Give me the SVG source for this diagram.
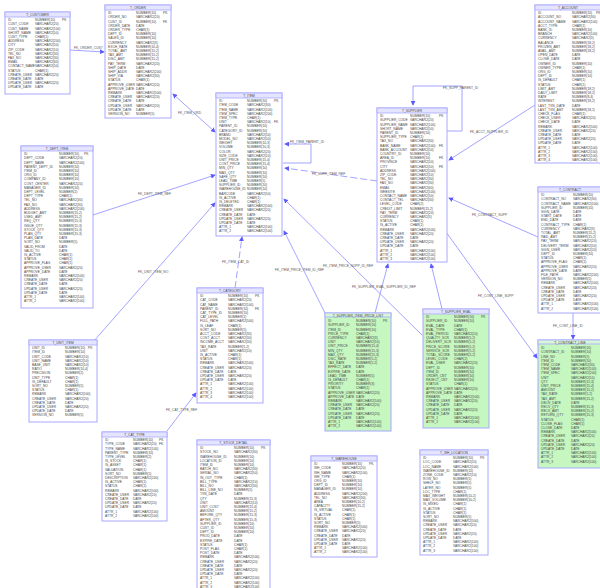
<svg xmlns="http://www.w3.org/2000/svg" width="600" height="588" viewBox="0 0 600 588">
<defs>
<style>
.b{fill:#fff;stroke:#a8a8ff;stroke-width:1}
.gr{fill:#c6f7c0;stroke:#a8a8ff;stroke-width:1}
.h{fill:#e4e4ff;stroke:#a8a8ff;stroke-width:.8}
text{font-family:"Liberation Sans",Arial,sans-serif;font-size:3.3px;fill:#484848}
.t{text-anchor:middle}
.k{fill:none;stroke:#a4a4ff;stroke-width:1}
.d{stroke-dasharray:7 3}
.l{font-size:3.3px;fill:#555}
</style>
<marker id="a" viewBox="0 0 6 6" refX="5" refY="3" markerWidth="5" markerHeight="5" orient="auto-start-reverse" markerUnits="userSpaceOnUse"><path d="M0,0L6,3L0,6z" fill="#5a5aff"/></marker>
</defs>
<rect width="600" height="588" fill="#fff"/>

<g id="connectors">
<path class="k" d="M70,50L104,52" marker-end="url(#a)"/>
<text class="l" x="74" y="49">FK_ORDER_CUST</text>
<path class="k" d="M215,132L173,94" marker-start="url(#a)" marker-end="url(#a)"/>
<text class="l" x="178" y="114">FK_ITEM_ORD</text>
<path class="k" d="M93,215L215,175" marker-end="url(#a)"/>
<text class="l" x="138" y="195">FK_DEPT_ITEM_REF</text>
<path class="k" d="M93,342L215,203" marker-end="url(#a)"/>
<text class="l" x="138" y="273">FK_UNIT_ITEM_NO</text>
<path class="k d" d="M235,288L242,237" marker-end="url(#a)"/>
<text class="l" x="222" y="263">FK_ITEM_CAT_ID</text>
<path class="k" d="M167,431L196,393" marker-end="url(#a)"/>
<text class="l" x="166" y="411">FK_CAT_TYPE_REF</text>
<path class="k" d="M283,163H311V144H285" marker-end="url(#a)"/>
<text class="l" x="290" y="143">FK_ITEM_PARENT_ID</text>
<path class="k d" d="M377,181L285,168" marker-end="url(#a)"/>
<text class="l" x="312" y="175">FK_SUPP_ITEM_REF</text>
<path class="k" d="M422,335L284,199" marker-end="url(#a)"/>
<path class="k" d="M325,313L284,231" marker-end="url(#a)"/>
<text class="l" x="275" y="271">FK_ITEM_PRICE_ITEM_ID_REF</text>
<path class="k" d="M375,313L388,264" marker-end="url(#a)"/>
<text class="l" x="323" y="267">FK_ITEM_PRICE_SUPP_ID_REF</text>
<path class="k" d="M442,309L431,264" marker-end="url(#a)"/>
<text class="l" x="352" y="288">FK_SUPPLIER_EVAL_SUPPLIER_ID_REF</text>
<path class="k" d="M535,105L449,160" marker-end="url(#a)"/>
<text class="l" x="470" y="133">FK_ACCT_SUPPLIER_ID</text>
<path class="k" d="M538,237L449,198" marker-end="url(#a)"/>
<text class="l" x="472" y="216">FK_CONTRACT_SUPP</text>
<path class="k" d="M446,232L537,358" marker-end="url(#a)"/>
<text class="l" x="478" y="297">FK_CONT_LINE_SUPP</text>
<path class="k" d="M573,313V339" marker-end="url(#a)"/>
<text class="l" x="553" y="327">FK_CONT_LINE_ID</text>
<path class="k" d="M447,131H462V86H413V105" marker-end="url(#a)"/>
<text class="l" x="443" y="89">FK_SUPP_PARENT_ID</text>
</g>

<g id="t_customer" transform="translate(5,12)">
<rect class="b" width="65" height="82"/><rect class="h" width="65" height="5"/>
<text class="t" x="32.5" y="3.9">T_CUSTOMER</text>
<text y="5"><tspan x="3" dy="4.2">ID</tspan><tspan x="3" dy="4.2">CUST_CODE</tspan><tspan x="3" dy="4.2">CUST_NAME</tspan><tspan x="3" dy="4.2">SHORT_NAME</tspan><tspan x="3" dy="4.2">CUST_TYPE</tspan><tspan x="3" dy="4.2">ADDRESS</tspan><tspan x="3" dy="4.2">CITY</tspan><tspan x="3" dy="4.2">ZIP_CODE</tspan><tspan x="3" dy="4.2">TEL_NO</tspan><tspan x="3" dy="4.2">FAX_NO</tspan><tspan x="3" dy="4.2">EMAIL</tspan><tspan x="3" dy="4.2">CONTACT_NAME</tspan><tspan x="3" dy="4.2">STATUS</tspan><tspan x="3" dy="4.2">CREATE_USER</tspan><tspan x="3" dy="4.2">CREATE_DATE</tspan><tspan x="3" dy="4.2">UPDATE_USER</tspan><tspan x="3" dy="4.2">UPDATE_DATE</tspan></text>
<text y="5"><tspan x="30" dy="4.2">NUMBER(10)</tspan><tspan x="30" dy="4.2">VARCHAR2(20)</tspan><tspan x="30" dy="4.2">VARCHAR2(100)</tspan><tspan x="30" dy="4.2">VARCHAR2(50)</tspan><tspan x="30" dy="4.2">CHAR(1)</tspan><tspan x="30" dy="4.2">VARCHAR2(200)</tspan><tspan x="30" dy="4.2">VARCHAR2(50)</tspan><tspan x="30" dy="4.2">VARCHAR2(10)</tspan><tspan x="30" dy="4.2">VARCHAR2(30)</tspan><tspan x="30" dy="4.2">VARCHAR2(30)</tspan><tspan x="30" dy="4.2">VARCHAR2(60)</tspan><tspan x="30" dy="4.2">VARCHAR2(50)</tspan><tspan x="30" dy="4.2">CHAR(1)</tspan><tspan x="30" dy="4.2">VARCHAR2(20)</tspan><tspan x="30" dy="4.2">DATE</tspan><tspan x="30" dy="4.2">VARCHAR2(20)</tspan><tspan x="30" dy="4.2">DATE</tspan></text>
<text x="57" y="9.2">PK</text>
</g>

<g id="t_order" transform="translate(105,5)">
<rect class="b" width="66" height="113"/><rect class="h" width="66" height="5"/>
<text class="t" x="33" y="3.9">T_ORDER</text>
<text y="5"><tspan x="3" dy="4.2">ID</tspan><tspan x="3" dy="4.2">ORDER_NO</tspan><tspan x="3" dy="4.2">CUST_ID</tspan><tspan x="3" dy="4.2">ORDER_DATE</tspan><tspan x="3" dy="4.2">ORDER_TYPE</tspan><tspan x="3" dy="4.2">DEPT_ID</tspan><tspan x="3" dy="4.2">SALES_ID</tspan><tspan x="3" dy="4.2">CURRENCY</tspan><tspan x="3" dy="4.2">EXCH_RATE</tspan><tspan x="3" dy="4.2">TOTAL_AMT</tspan><tspan x="3" dy="4.2">TAX_AMT</tspan><tspan x="3" dy="4.2">DISC_AMT</tspan><tspan x="3" dy="4.2">PAY_TERM</tspan><tspan x="3" dy="4.2">SHIP_DATE</tspan><tspan x="3" dy="4.2">SHIP_ADDR</tspan><tspan x="3" dy="4.2">SHIP_VIA</tspan><tspan x="3" dy="4.2">STATUS</tspan><tspan x="3" dy="4.2">APPROVE_USER</tspan><tspan x="3" dy="4.2">APPROVE_DATE</tspan><tspan x="3" dy="4.2">REMARK</tspan><tspan x="3" dy="4.2">CREATE_USER</tspan><tspan x="3" dy="4.2">CREATE_DATE</tspan><tspan x="3" dy="4.2">UPDATE_USER</tspan><tspan x="3" dy="4.2">UPDATE_DATE</tspan><tspan x="3" dy="4.2">VERSION_NO</tspan></text>
<text y="5"><tspan x="31" dy="4.2">NUMBER(10)</tspan><tspan x="31" dy="4.2">VARCHAR2(20)</tspan><tspan x="31" dy="4.2">NUMBER(10)</tspan><tspan x="31" dy="4.2">DATE</tspan><tspan x="31" dy="4.2">CHAR(1)</tspan><tspan x="31" dy="4.2">NUMBER(10)</tspan><tspan x="31" dy="4.2">NUMBER(10)</tspan><tspan x="31" dy="4.2">VARCHAR2(3)</tspan><tspan x="31" dy="4.2">NUMBER(10,4)</tspan><tspan x="31" dy="4.2">NUMBER(15,2)</tspan><tspan x="31" dy="4.2">NUMBER(15,2)</tspan><tspan x="31" dy="4.2">NUMBER(15,2)</tspan><tspan x="31" dy="4.2">VARCHAR2(20)</tspan><tspan x="31" dy="4.2">DATE</tspan><tspan x="31" dy="4.2">VARCHAR2(200)</tspan><tspan x="31" dy="4.2">VARCHAR2(30)</tspan><tspan x="31" dy="4.2">CHAR(1)</tspan><tspan x="31" dy="4.2">VARCHAR2(20)</tspan><tspan x="31" dy="4.2">DATE</tspan><tspan x="31" dy="4.2">VARCHAR2(500)</tspan><tspan x="31" dy="4.2">VARCHAR2(20)</tspan><tspan x="31" dy="4.2">DATE</tspan><tspan x="31" dy="4.2">VARCHAR2(20)</tspan><tspan x="31" dy="4.2">DATE</tspan><tspan x="31" dy="4.2">NUMBER(5)</tspan></text>
<text x="58" y="9.2">PK</text><text x="58" y="17.6">FK</text>
</g>

<g id="t_item" transform="translate(216,93)">
<rect class="b" width="66" height="143"/><rect class="h" width="66" height="5"/>
<text class="t" x="33" y="3.9">T_ITEM</text>
<text y="5"><tspan x="3" dy="4.2">ID</tspan><tspan x="3" dy="4.2">ITEM_CODE</tspan><tspan x="3" dy="4.2">ITEM_NAME</tspan><tspan x="3" dy="4.2">ITEM_SPEC</tspan><tspan x="3" dy="4.2">ITEM_TYPE</tspan><tspan x="3" dy="4.2">UNIT</tspan><tspan x="3" dy="4.2">PARENT_ID</tspan><tspan x="3" dy="4.2">CATEGORY_ID</tspan><tspan x="3" dy="4.2">BRAND</tspan><tspan x="3" dy="4.2">MODEL_NO</tspan><tspan x="3" dy="4.2">WEIGHT</tspan><tspan x="3" dy="4.2">VOLUME</tspan><tspan x="3" dy="4.2">COLOR</tspan><tspan x="3" dy="4.2">SIZE_CODE</tspan><tspan x="3" dy="4.2">UNIT_PRICE</tspan><tspan x="3" dy="4.2">COST_PRICE</tspan><tspan x="3" dy="4.2">MIN_QTY</tspan><tspan x="3" dy="4.2">MAX_QTY</tspan><tspan x="3" dy="4.2">SAFE_QTY</tspan><tspan x="3" dy="4.2">LEAD_TIME</tspan><tspan x="3" dy="4.2">SUPPLIER_ID</tspan><tspan x="3" dy="4.2">WAREHOUSE_ID</tspan><tspan x="3" dy="4.2">BARCODE</tspan><tspan x="3" dy="4.2">IS_ACTIVE</tspan><tspan x="3" dy="4.2">IS_DELETED</tspan><tspan x="3" dy="4.2">REMARK</tspan><tspan x="3" dy="4.2">CREATE_USER</tspan><tspan x="3" dy="4.2">CREATE_DATE</tspan><tspan x="3" dy="4.2">UPDATE_USER</tspan><tspan x="3" dy="4.2">UPDATE_DATE</tspan><tspan x="3" dy="4.2">ATTR_1</tspan><tspan x="3" dy="4.2">ATTR_2</tspan></text>
<text y="5"><tspan x="31" dy="4.2">NUMBER(10)</tspan><tspan x="31" dy="4.2">VARCHAR2(30)</tspan><tspan x="31" dy="4.2">VARCHAR2(100)</tspan><tspan x="31" dy="4.2">VARCHAR2(200)</tspan><tspan x="31" dy="4.2">CHAR(1)</tspan><tspan x="31" dy="4.2">VARCHAR2(10)</tspan><tspan x="31" dy="4.2">NUMBER(10)</tspan><tspan x="31" dy="4.2">NUMBER(10)</tspan><tspan x="31" dy="4.2">VARCHAR2(50)</tspan><tspan x="31" dy="4.2">VARCHAR2(50)</tspan><tspan x="31" dy="4.2">NUMBER(10,3)</tspan><tspan x="31" dy="4.2">NUMBER(10,3)</tspan><tspan x="31" dy="4.2">VARCHAR2(20)</tspan><tspan x="31" dy="4.2">VARCHAR2(10)</tspan><tspan x="31" dy="4.2">NUMBER(15,4)</tspan><tspan x="31" dy="4.2">NUMBER(15,4)</tspan><tspan x="31" dy="4.2">NUMBER(10)</tspan><tspan x="31" dy="4.2">NUMBER(10)</tspan><tspan x="31" dy="4.2">NUMBER(10)</tspan><tspan x="31" dy="4.2">NUMBER(5)</tspan><tspan x="31" dy="4.2">NUMBER(10)</tspan><tspan x="31" dy="4.2">NUMBER(10)</tspan><tspan x="31" dy="4.2">VARCHAR2(50)</tspan><tspan x="31" dy="4.2">CHAR(1)</tspan><tspan x="31" dy="4.2">CHAR(1)</tspan><tspan x="31" dy="4.2">VARCHAR2(500)</tspan><tspan x="31" dy="4.2">VARCHAR2(20)</tspan><tspan x="31" dy="4.2">DATE</tspan><tspan x="31" dy="4.2">VARCHAR2(20)</tspan><tspan x="31" dy="4.2">DATE</tspan><tspan x="31" dy="4.2">VARCHAR2(100)</tspan><tspan x="31" dy="4.2">VARCHAR2(100)</tspan></text>
<text x="58" y="9.2">PK</text><text x="58" y="30.2">FK</text>
</g>

<g id="t_supplier" transform="translate(377,108)">
<rect class="b" width="70" height="154"/><rect class="h" width="70" height="5"/>
<text class="t" x="35" y="3.9">T_SUPPLIER</text>
<text y="5"><tspan x="3" dy="4.2">ID</tspan><tspan x="3" dy="4.2">SUPPLIER_CODE</tspan><tspan x="3" dy="4.2">SUPPLIER_NAME</tspan><tspan x="3" dy="4.2">SHORT_NAME</tspan><tspan x="3" dy="4.2">PARENT_ID</tspan><tspan x="3" dy="4.2">SUPPLIER_TYPE</tspan><tspan x="3" dy="4.2">TAX_NO</tspan><tspan x="3" dy="4.2">BANK_NAME</tspan><tspan x="3" dy="4.2">BANK_ACCOUNT</tspan><tspan x="3" dy="4.2">COUNTRY_ID</tspan><tspan x="3" dy="4.2">AREA_ID</tspan><tspan x="3" dy="4.2">PROVINCE</tspan><tspan x="3" dy="4.2">CITY</tspan><tspan x="3" dy="4.2">ADDRESS</tspan><tspan x="3" dy="4.2">ZIP_CODE</tspan><tspan x="3" dy="4.2">TEL_NO</tspan><tspan x="3" dy="4.2">FAX_NO</tspan><tspan x="3" dy="4.2">EMAIL</tspan><tspan x="3" dy="4.2">WEBSITE</tspan><tspan x="3" dy="4.2">CONTACT_NAME</tspan><tspan x="3" dy="4.2">CONTACT_TEL</tspan><tspan x="3" dy="4.2">LEVEL_CODE</tspan><tspan x="3" dy="4.2">CREDIT_LIMIT</tspan><tspan x="3" dy="4.2">PAY_TERM</tspan><tspan x="3" dy="4.2">CURRENCY</tspan><tspan x="3" dy="4.2">STATUS</tspan><tspan x="3" dy="4.2">IS_ACTIVE</tspan><tspan x="3" dy="4.2">REMARK</tspan><tspan x="3" dy="4.2">CREATE_USER</tspan><tspan x="3" dy="4.2">CREATE_DATE</tspan><tspan x="3" dy="4.2">UPDATE_USER</tspan><tspan x="3" dy="4.2">UPDATE_DATE</tspan><tspan x="3" dy="4.2">ATTR_1</tspan><tspan x="3" dy="4.2">ATTR_2</tspan><tspan x="3" dy="4.2">ATTR_3</tspan></text>
<text y="5"><tspan x="33" dy="4.2">NUMBER(10)</tspan><tspan x="33" dy="4.2">VARCHAR2(20)</tspan><tspan x="33" dy="4.2">VARCHAR2(100)</tspan><tspan x="33" dy="4.2">VARCHAR2(50)</tspan><tspan x="33" dy="4.2">NUMBER(10)</tspan><tspan x="33" dy="4.2">CHAR(1)</tspan><tspan x="33" dy="4.2">VARCHAR2(30)</tspan><tspan x="33" dy="4.2">VARCHAR2(100)</tspan><tspan x="33" dy="4.2">VARCHAR2(50)</tspan><tspan x="33" dy="4.2">NUMBER(10)</tspan><tspan x="33" dy="4.2">NUMBER(10)</tspan><tspan x="33" dy="4.2">VARCHAR2(50)</tspan><tspan x="33" dy="4.2">VARCHAR2(50)</tspan><tspan x="33" dy="4.2">VARCHAR2(200)</tspan><tspan x="33" dy="4.2">VARCHAR2(10)</tspan><tspan x="33" dy="4.2">VARCHAR2(30)</tspan><tspan x="33" dy="4.2">VARCHAR2(30)</tspan><tspan x="33" dy="4.2">VARCHAR2(60)</tspan><tspan x="33" dy="4.2">VARCHAR2(100)</tspan><tspan x="33" dy="4.2">VARCHAR2(50)</tspan><tspan x="33" dy="4.2">VARCHAR2(30)</tspan><tspan x="33" dy="4.2">CHAR(2)</tspan><tspan x="33" dy="4.2">NUMBER(15,2)</tspan><tspan x="33" dy="4.2">VARCHAR2(20)</tspan><tspan x="33" dy="4.2">VARCHAR2(3)</tspan><tspan x="33" dy="4.2">CHAR(1)</tspan><tspan x="33" dy="4.2">CHAR(1)</tspan><tspan x="33" dy="4.2">VARCHAR2(500)</tspan><tspan x="33" dy="4.2">VARCHAR2(20)</tspan><tspan x="33" dy="4.2">DATE</tspan><tspan x="33" dy="4.2">VARCHAR2(20)</tspan><tspan x="33" dy="4.2">DATE</tspan><tspan x="33" dy="4.2">VARCHAR2(100)</tspan><tspan x="33" dy="4.2">VARCHAR2(100)</tspan><tspan x="33" dy="4.2">VARCHAR2(100)</tspan></text>
<text x="62" y="9.2">PK</text><text x="62" y="38.6">FK</text><text x="62" y="51.2">FK</text><text x="62" y="59.6">FK</text>
</g>

<g id="t_account" transform="translate(535,5)">
<rect class="b" width="70" height="158"/><rect class="h" width="70" height="5"/>
<text class="t" x="33" y="3.9">T_ACCOUNT</text>
<text y="5"><tspan x="3" dy="4.2">ID</tspan><tspan x="3" dy="4.2">ACCOUNT_NO</tspan><tspan x="3" dy="4.2">ACCOUNT_NAME</tspan><tspan x="3" dy="4.2">ACCT_TYPE</tspan><tspan x="3" dy="4.2">BANK_ID</tspan><tspan x="3" dy="4.2">BRANCH</tspan><tspan x="3" dy="4.2">CURRENCY</tspan><tspan x="3" dy="4.2">BALANCE</tspan><tspan x="3" dy="4.2">FROZEN_AMT</tspan><tspan x="3" dy="4.2">AVAIL_AMT</tspan><tspan x="3" dy="4.2">OPEN_DATE</tspan><tspan x="3" dy="4.2">CLOSE_DATE</tspan><tspan x="3" dy="4.2">OWNER_ID</tspan><tspan x="3" dy="4.2">OWNER_TYPE</tspan><tspan x="3" dy="4.2">ORG_ID</tspan><tspan x="3" dy="4.2">DEPT_ID</tspan><tspan x="3" dy="4.2">IS_DEFAULT</tspan><tspan x="3" dy="4.2">STATUS</tspan><tspan x="3" dy="4.2">LIMIT_AMT</tspan><tspan x="3" dy="4.2">DAILY_LIMIT</tspan><tspan x="3" dy="4.2">RATE</tspan><tspan x="3" dy="4.2">INTEREST</tspan><tspan x="3" dy="4.2">LAST_TXN_DATE</tspan><tspan x="3" dy="4.2">LAST_TXN_AMT</tspan><tspan x="3" dy="4.2">CHECK_FLAG</tspan><tspan x="3" dy="4.2">CHECK_USER</tspan><tspan x="3" dy="4.2">CHECK_DATE</tspan><tspan x="3" dy="4.2">REMARK</tspan><tspan x="3" dy="4.2">CREATE_USER</tspan><tspan x="3" dy="4.2">CREATE_DATE</tspan><tspan x="3" dy="4.2">UPDATE_USER</tspan><tspan x="3" dy="4.2">UPDATE_DATE</tspan><tspan x="3" dy="4.2">ATTR_1</tspan><tspan x="3" dy="4.2">ATTR_2</tspan><tspan x="3" dy="4.2">ATTR_3</tspan><tspan x="3" dy="4.2">ATTR_4</tspan></text>
<text y="5"><tspan x="37" dy="4.2">NUMBER(10)</tspan><tspan x="37" dy="4.2">VARCHAR2(30)</tspan><tspan x="37" dy="4.2">VARCHAR2(100)</tspan><tspan x="37" dy="4.2">CHAR(1)</tspan><tspan x="37" dy="4.2">NUMBER(10)</tspan><tspan x="37" dy="4.2">VARCHAR2(100)</tspan><tspan x="37" dy="4.2">VARCHAR2(3)</tspan><tspan x="37" dy="4.2">NUMBER(18,2)</tspan><tspan x="37" dy="4.2">NUMBER(18,2)</tspan><tspan x="37" dy="4.2">NUMBER(18,2)</tspan><tspan x="37" dy="4.2">DATE</tspan><tspan x="37" dy="4.2">DATE</tspan><tspan x="37" dy="4.2">NUMBER(10)</tspan><tspan x="37" dy="4.2">CHAR(1)</tspan><tspan x="37" dy="4.2">NUMBER(10)</tspan><tspan x="37" dy="4.2">NUMBER(10)</tspan><tspan x="37" dy="4.2">CHAR(1)</tspan><tspan x="37" dy="4.2">CHAR(1)</tspan><tspan x="37" dy="4.2">NUMBER(18,2)</tspan><tspan x="37" dy="4.2">NUMBER(18,2)</tspan><tspan x="37" dy="4.2">NUMBER(8,4)</tspan><tspan x="37" dy="4.2">NUMBER(18,2)</tspan><tspan x="37" dy="4.2">DATE</tspan><tspan x="37" dy="4.2">NUMBER(18,2)</tspan><tspan x="37" dy="4.2">CHAR(1)</tspan><tspan x="37" dy="4.2">VARCHAR2(20)</tspan><tspan x="37" dy="4.2">DATE</tspan><tspan x="37" dy="4.2">VARCHAR2(500)</tspan><tspan x="37" dy="4.2">VARCHAR2(20)</tspan><tspan x="37" dy="4.2">DATE</tspan><tspan x="37" dy="4.2">VARCHAR2(20)</tspan><tspan x="37" dy="4.2">DATE</tspan><tspan x="37" dy="4.2">VARCHAR2(100)</tspan><tspan x="37" dy="4.2">VARCHAR2(100)</tspan><tspan x="37" dy="4.2">VARCHAR2(100)</tspan><tspan x="37" dy="4.2">VARCHAR2(100)</tspan></text>
<text x="61" y="9.2">PK</text>
</g>

<g id="t_contract" transform="translate(538,187)">
<rect class="b" width="70" height="126"/><rect class="h" width="70" height="5"/>
<text class="t" x="32" y="3.9">T_CONTRACT</text>
<text y="5"><tspan x="3" dy="4.2">ID</tspan><tspan x="3" dy="4.2">CONTRACT_NO</tspan><tspan x="3" dy="4.2">CONTRACT_NAME</tspan><tspan x="3" dy="4.2">SUPPLIER_ID</tspan><tspan x="3" dy="4.2">SIGN_DATE</tspan><tspan x="3" dy="4.2">START_DATE</tspan><tspan x="3" dy="4.2">END_DATE</tspan><tspan x="3" dy="4.2">CONTRACT_TYPE</tspan><tspan x="3" dy="4.2">CURRENCY</tspan><tspan x="3" dy="4.2">TOTAL_AMT</tspan><tspan x="3" dy="4.2">PAID_AMT</tspan><tspan x="3" dy="4.2">PAY_TERM</tspan><tspan x="3" dy="4.2">DELIVERY_TERM</tspan><tspan x="3" dy="4.2">SIGN_USER</tspan><tspan x="3" dy="4.2">DEPT_ID</tspan><tspan x="3" dy="4.2">STATUS</tspan><tspan x="3" dy="4.2">APPROVE_FLAG</tspan><tspan x="3" dy="4.2">APPROVE_USER</tspan><tspan x="3" dy="4.2">APPROVE_DATE</tspan><tspan x="3" dy="4.2">FILE_PATH</tspan><tspan x="3" dy="4.2">VERSION_NO</tspan><tspan x="3" dy="4.2">REMARK</tspan><tspan x="3" dy="4.2">CREATE_USER</tspan><tspan x="3" dy="4.2">CREATE_DATE</tspan><tspan x="3" dy="4.2">UPDATE_USER</tspan><tspan x="3" dy="4.2">UPDATE_DATE</tspan><tspan x="3" dy="4.2">ATTR_1</tspan><tspan x="3" dy="4.2">ATTR_2</tspan></text>
<text y="5"><tspan x="35" dy="4.2">NUMBER(10)</tspan><tspan x="35" dy="4.2">VARCHAR2(30)</tspan><tspan x="35" dy="4.2">VARCHAR2(100)</tspan><tspan x="35" dy="4.2">NUMBER(10)</tspan><tspan x="35" dy="4.2">DATE</tspan><tspan x="35" dy="4.2">DATE</tspan><tspan x="35" dy="4.2">DATE</tspan><tspan x="35" dy="4.2">CHAR(1)</tspan><tspan x="35" dy="4.2">VARCHAR2(3)</tspan><tspan x="35" dy="4.2">NUMBER(15,2)</tspan><tspan x="35" dy="4.2">NUMBER(15,2)</tspan><tspan x="35" dy="4.2">VARCHAR2(20)</tspan><tspan x="35" dy="4.2">VARCHAR2(50)</tspan><tspan x="35" dy="4.2">VARCHAR2(20)</tspan><tspan x="35" dy="4.2">NUMBER(10)</tspan><tspan x="35" dy="4.2">CHAR(1)</tspan><tspan x="35" dy="4.2">CHAR(1)</tspan><tspan x="35" dy="4.2">VARCHAR2(20)</tspan><tspan x="35" dy="4.2">DATE</tspan><tspan x="35" dy="4.2">VARCHAR2(200)</tspan><tspan x="35" dy="4.2">NUMBER(5)</tspan><tspan x="35" dy="4.2">VARCHAR2(500)</tspan><tspan x="35" dy="4.2">VARCHAR2(20)</tspan><tspan x="35" dy="4.2">DATE</tspan><tspan x="35" dy="4.2">VARCHAR2(20)</tspan><tspan x="35" dy="4.2">DATE</tspan><tspan x="35" dy="4.2">VARCHAR2(100)</tspan><tspan x="35" dy="4.2">VARCHAR2(100)</tspan></text>
</g>

<g id="t_contract_line" transform="translate(538,340)">
<rect class="gr" width="70" height="128"/><rect class="h" width="70" height="4" style="fill:#d8f5d8"/>
<text class="t" x="32" y="3.6">T_CONTRACT_LINE</text>
<text y="5"><tspan x="3" dy="4.2">ID</tspan><tspan x="3" dy="4.2">CONTRACT_ID</tspan><tspan x="3" dy="4.2">LINE_NO</tspan><tspan x="3" dy="4.2">ITEM_ID</tspan><tspan x="3" dy="4.2">ITEM_CODE</tspan><tspan x="3" dy="4.2">ITEM_NAME</tspan><tspan x="3" dy="4.2">ITEM_SPEC</tspan><tspan x="3" dy="4.2">UNIT</tspan><tspan x="3" dy="4.2">QTY</tspan><tspan x="3" dy="4.2">UNIT_PRICE</tspan><tspan x="3" dy="4.2">AMOUNT</tspan><tspan x="3" dy="4.2">TAX_RATE</tspan><tspan x="3" dy="4.2">TAX_AMT</tspan><tspan x="3" dy="4.2">DELIV_DATE</tspan><tspan x="3" dy="4.2">RECV_QTY</tspan><tspan x="3" dy="4.2">RECV_AMT</tspan><tspan x="3" dy="4.2">RETURN_QTY</tspan><tspan x="3" dy="4.2">STATUS</tspan><tspan x="3" dy="4.2">CLOSE_FLAG</tspan><tspan x="3" dy="4.2">CLOSE_DATE</tspan><tspan x="3" dy="4.2">REMARK</tspan><tspan x="3" dy="4.2">CREATE_USER</tspan><tspan x="3" dy="4.2">CREATE_DATE</tspan><tspan x="3" dy="4.2">UPDATE_USER</tspan><tspan x="3" dy="4.2">UPDATE_DATE</tspan><tspan x="3" dy="4.2">ATTR_1</tspan><tspan x="3" dy="4.2">ATTR_2</tspan><tspan x="3" dy="4.2">ATTR_3</tspan></text>
<text y="5"><tspan x="33" dy="4.2">NUMBER(10)</tspan><tspan x="33" dy="4.2">NUMBER(10)</tspan><tspan x="33" dy="4.2">NUMBER(5)</tspan><tspan x="33" dy="4.2">NUMBER(10)</tspan><tspan x="33" dy="4.2">VARCHAR2(30)</tspan><tspan x="33" dy="4.2">VARCHAR2(100)</tspan><tspan x="33" dy="4.2">VARCHAR2(200)</tspan><tspan x="33" dy="4.2">VARCHAR2(10)</tspan><tspan x="33" dy="4.2">NUMBER(15,3)</tspan><tspan x="33" dy="4.2">NUMBER(15,4)</tspan><tspan x="33" dy="4.2">NUMBER(15,2)</tspan><tspan x="33" dy="4.2">NUMBER(5,2)</tspan><tspan x="33" dy="4.2">NUMBER(15,2)</tspan><tspan x="33" dy="4.2">DATE</tspan><tspan x="33" dy="4.2">NUMBER(15,3)</tspan><tspan x="33" dy="4.2">NUMBER(15,2)</tspan><tspan x="33" dy="4.2">NUMBER(15,3)</tspan><tspan x="33" dy="4.2">CHAR(1)</tspan><tspan x="33" dy="4.2">CHAR(1)</tspan><tspan x="33" dy="4.2">DATE</tspan><tspan x="33" dy="4.2">VARCHAR2(500)</tspan><tspan x="33" dy="4.2">VARCHAR2(20)</tspan><tspan x="33" dy="4.2">DATE</tspan><tspan x="33" dy="4.2">VARCHAR2(20)</tspan><tspan x="33" dy="4.2">DATE</tspan><tspan x="33" dy="4.2">VARCHAR2(100)</tspan><tspan x="33" dy="4.2">VARCHAR2(100)</tspan><tspan x="33" dy="4.2">VARCHAR2(100)</tspan></text>
</g>

<g id="t_item_price" transform="translate(325,313)">
<rect class="gr" width="66" height="118"/><rect class="h" width="66" height="4" style="fill:#d8f5d8"/>
<text class="t" x="33" y="3.6">T_SUPPLIER_ITEM_PRICE_LIST</text>
<text y="5"><tspan x="3" dy="4.2">ID</tspan><tspan x="3" dy="4.2">SUPPLIER_ID</tspan><tspan x="3" dy="4.2">ITEM_ID</tspan><tspan x="3" dy="4.2">PRICE_TYPE</tspan><tspan x="3" dy="4.2">CURRENCY</tspan><tspan x="3" dy="4.2">UNIT</tspan><tspan x="3" dy="4.2">UNIT_PRICE</tspan><tspan x="3" dy="4.2">MIN_QTY</tspan><tspan x="3" dy="4.2">MAX_QTY</tspan><tspan x="3" dy="4.2">DISC_RATE</tspan><tspan x="3" dy="4.2">TAX_RATE</tspan><tspan x="3" dy="4.2">EFFECT_DATE</tspan><tspan x="3" dy="4.2">EXPIRE_DATE</tspan><tspan x="3" dy="4.2">LEAD_TIME</tspan><tspan x="3" dy="4.2">IS_DEFAULT</tspan><tspan x="3" dy="4.2">PRIORITY</tspan><tspan x="3" dy="4.2">STATUS</tspan><tspan x="3" dy="4.2">APPROVE_USER</tspan><tspan x="3" dy="4.2">APPROVE_DATE</tspan><tspan x="3" dy="4.2">REMARK</tspan><tspan x="3" dy="4.2">CREATE_USER</tspan><tspan x="3" dy="4.2">CREATE_DATE</tspan><tspan x="3" dy="4.2">UPDATE_USER</tspan><tspan x="3" dy="4.2">UPDATE_DATE</tspan><tspan x="3" dy="4.2">ATTR_1</tspan><tspan x="3" dy="4.2">ATTR_2</tspan></text>
<text y="5"><tspan x="31" dy="4.2">NUMBER(10)</tspan><tspan x="31" dy="4.2">NUMBER(10)</tspan><tspan x="31" dy="4.2">NUMBER(10)</tspan><tspan x="31" dy="4.2">CHAR(1)</tspan><tspan x="31" dy="4.2">VARCHAR2(3)</tspan><tspan x="31" dy="4.2">VARCHAR2(10)</tspan><tspan x="31" dy="4.2">NUMBER(15,4)</tspan><tspan x="31" dy="4.2">NUMBER(15,3)</tspan><tspan x="31" dy="4.2">NUMBER(15,3)</tspan><tspan x="31" dy="4.2">NUMBER(5,2)</tspan><tspan x="31" dy="4.2">NUMBER(5,2)</tspan><tspan x="31" dy="4.2">DATE</tspan><tspan x="31" dy="4.2">DATE</tspan><tspan x="31" dy="4.2">NUMBER(5)</tspan><tspan x="31" dy="4.2">CHAR(1)</tspan><tspan x="31" dy="4.2">NUMBER(3)</tspan><tspan x="31" dy="4.2">CHAR(1)</tspan><tspan x="31" dy="4.2">VARCHAR2(20)</tspan><tspan x="31" dy="4.2">DATE</tspan><tspan x="31" dy="4.2">VARCHAR2(500)</tspan><tspan x="31" dy="4.2">VARCHAR2(20)</tspan><tspan x="31" dy="4.2">DATE</tspan><tspan x="31" dy="4.2">VARCHAR2(20)</tspan><tspan x="31" dy="4.2">DATE</tspan><tspan x="31" dy="4.2">VARCHAR2(100)</tspan><tspan x="31" dy="4.2">VARCHAR2(100)</tspan></text>
<text x="58" y="9.2">PK</text>
</g>

<g id="t_supplier_eval" transform="translate(423,309)">
<rect class="gr" width="66" height="119"/><rect class="h" width="66" height="5"/>
<text class="t" x="33" y="3.9">T_SUPPLIER_EVAL</text>
<text y="5"><tspan x="3" dy="4.2">ID</tspan><tspan x="3" dy="4.2">SUPPLIER_ID</tspan><tspan x="3" dy="4.2">EVAL_DATE</tspan><tspan x="3" dy="4.2">EVAL_TYPE</tspan><tspan x="3" dy="4.2">EVAL_PERIOD</tspan><tspan x="3" dy="4.2">QUALITY_SCR</tspan><tspan x="3" dy="4.2">DELIVERY_SCR</tspan><tspan x="3" dy="4.2">PRICE_SCORE</tspan><tspan x="3" dy="4.2">SERVICE_SCR</tspan><tspan x="3" dy="4.2">TOTAL_SCORE</tspan><tspan x="3" dy="4.2">LEVEL_CODE</tspan><tspan x="3" dy="4.2">EVAL_USER</tspan><tspan x="3" dy="4.2">DEPT_ID</tspan><tspan x="3" dy="4.2">ITEM_ID</tspan><tspan x="3" dy="4.2">ORDER_CNT</tspan><tspan x="3" dy="4.2">REJECT_CNT</tspan><tspan x="3" dy="4.2">STATUS</tspan><tspan x="3" dy="4.2">APPROVE_USER</tspan><tspan x="3" dy="4.2">APPROVE_DATE</tspan><tspan x="3" dy="4.2">REMARK</tspan><tspan x="3" dy="4.2">CREATE_USER</tspan><tspan x="3" dy="4.2">CREATE_DATE</tspan><tspan x="3" dy="4.2">UPDATE_USER</tspan><tspan x="3" dy="4.2">UPDATE_DATE</tspan><tspan x="3" dy="4.2">ATTR_1</tspan><tspan x="3" dy="4.2">ATTR_2</tspan></text>
<text y="5"><tspan x="31" dy="4.2">NUMBER(10)</tspan><tspan x="31" dy="4.2">NUMBER(10)</tspan><tspan x="31" dy="4.2">DATE</tspan><tspan x="31" dy="4.2">CHAR(1)</tspan><tspan x="31" dy="4.2">VARCHAR2(10)</tspan><tspan x="31" dy="4.2">NUMBER(5,2)</tspan><tspan x="31" dy="4.2">NUMBER(5,2)</tspan><tspan x="31" dy="4.2">NUMBER(5,2)</tspan><tspan x="31" dy="4.2">NUMBER(5,2)</tspan><tspan x="31" dy="4.2">NUMBER(5,2)</tspan><tspan x="31" dy="4.2">CHAR(2)</tspan><tspan x="31" dy="4.2">VARCHAR2(20)</tspan><tspan x="31" dy="4.2">NUMBER(10)</tspan><tspan x="31" dy="4.2">NUMBER(10)</tspan><tspan x="31" dy="4.2">NUMBER(10)</tspan><tspan x="31" dy="4.2">NUMBER(10)</tspan><tspan x="31" dy="4.2">CHAR(1)</tspan><tspan x="31" dy="4.2">VARCHAR2(20)</tspan><tspan x="31" dy="4.2">DATE</tspan><tspan x="31" dy="4.2">VARCHAR2(500)</tspan><tspan x="31" dy="4.2">VARCHAR2(20)</tspan><tspan x="31" dy="4.2">DATE</tspan><tspan x="31" dy="4.2">VARCHAR2(20)</tspan><tspan x="31" dy="4.2">DATE</tspan><tspan x="31" dy="4.2">VARCHAR2(100)</tspan><tspan x="31" dy="4.2">VARCHAR2(100)</tspan></text>
<text x="58" y="9.2">PK</text>
</g>

<g id="t_dept" transform="translate(21,146)">
<rect class="b" width="72" height="162"/><rect class="h" width="72" height="5"/>
<text class="t" x="36" y="3.9">T_DEPT_ITEM</text>
<text y="5"><tspan x="3" dy="4.2">ID</tspan><tspan x="3" dy="4.2">DEPT_CODE</tspan><tspan x="3" dy="4.2">DEPT_NAME</tspan><tspan x="3" dy="4.2">PARENT_DEPT_ID</tspan><tspan x="3" dy="4.2">ITEM_ID</tspan><tspan x="3" dy="4.2">ORG_ID</tspan><tspan x="3" dy="4.2">COMPANY_ID</tspan><tspan x="3" dy="4.2">COST_CENTER</tspan><tspan x="3" dy="4.2">MANAGER_ID</tspan><tspan x="3" dy="4.2">DEPT_LEVEL</tspan><tspan x="3" dy="4.2">DEPT_TYPE</tspan><tspan x="3" dy="4.2">TEL_NO</tspan><tspan x="3" dy="4.2">FAX_NO</tspan><tspan x="3" dy="4.2">ADDRESS</tspan><tspan x="3" dy="4.2">BUDGET_AMT</tspan><tspan x="3" dy="4.2">USED_AMT</tspan><tspan x="3" dy="4.2">REQ_QTY</tspan><tspan x="3" dy="4.2">ISSUE_QTY</tspan><tspan x="3" dy="4.2">STOCK_QTY</tspan><tspan x="3" dy="4.2">PLAN_QTY</tspan><tspan x="3" dy="4.2">PLAN_DATE</tspan><tspan x="3" dy="4.2">SORT_NO</tspan><tspan x="3" dy="4.2">VALID_FROM</tspan><tspan x="3" dy="4.2">VALID_TO</tspan><tspan x="3" dy="4.2">IS_ACTIVE</tspan><tspan x="3" dy="4.2">STATUS</tspan><tspan x="3" dy="4.2">APPROVE_FLAG</tspan><tspan x="3" dy="4.2">APPROVE_USER</tspan><tspan x="3" dy="4.2">APPROVE_DATE</tspan><tspan x="3" dy="4.2">REMARK</tspan><tspan x="3" dy="4.2">CREATE_USER</tspan><tspan x="3" dy="4.2">CREATE_DATE</tspan><tspan x="3" dy="4.2">UPDATE_USER</tspan><tspan x="3" dy="4.2">UPDATE_DATE</tspan><tspan x="3" dy="4.2">ATTR_1</tspan><tspan x="3" dy="4.2">ATTR_2</tspan></text>
<text y="5"><tspan x="38" dy="4.2">NUMBER(10)</tspan><tspan x="38" dy="4.2">VARCHAR2(20)</tspan><tspan x="38" dy="4.2">VARCHAR2(100)</tspan><tspan x="38" dy="4.2">NUMBER(10)</tspan><tspan x="38" dy="4.2">NUMBER(10)</tspan><tspan x="38" dy="4.2">NUMBER(10)</tspan><tspan x="38" dy="4.2">NUMBER(10)</tspan><tspan x="38" dy="4.2">VARCHAR2(20)</tspan><tspan x="38" dy="4.2">NUMBER(10)</tspan><tspan x="38" dy="4.2">NUMBER(2)</tspan><tspan x="38" dy="4.2">CHAR(1)</tspan><tspan x="38" dy="4.2">VARCHAR2(30)</tspan><tspan x="38" dy="4.2">VARCHAR2(30)</tspan><tspan x="38" dy="4.2">VARCHAR2(200)</tspan><tspan x="38" dy="4.2">NUMBER(15,2)</tspan><tspan x="38" dy="4.2">NUMBER(15,2)</tspan><tspan x="38" dy="4.2">NUMBER(15,3)</tspan><tspan x="38" dy="4.2">NUMBER(15,3)</tspan><tspan x="38" dy="4.2">NUMBER(15,3)</tspan><tspan x="38" dy="4.2">NUMBER(15,3)</tspan><tspan x="38" dy="4.2">DATE</tspan><tspan x="38" dy="4.2">NUMBER(5)</tspan><tspan x="38" dy="4.2">DATE</tspan><tspan x="38" dy="4.2">DATE</tspan><tspan x="38" dy="4.2">CHAR(1)</tspan><tspan x="38" dy="4.2">CHAR(1)</tspan><tspan x="38" dy="4.2">CHAR(1)</tspan><tspan x="38" dy="4.2">VARCHAR2(20)</tspan><tspan x="38" dy="4.2">DATE</tspan><tspan x="38" dy="4.2">VARCHAR2(500)</tspan><tspan x="38" dy="4.2">VARCHAR2(20)</tspan><tspan x="38" dy="4.2">DATE</tspan><tspan x="38" dy="4.2">VARCHAR2(20)</tspan><tspan x="38" dy="4.2">DATE</tspan><tspan x="38" dy="4.2">VARCHAR2(100)</tspan><tspan x="38" dy="4.2">VARCHAR2(100)</tspan></text>
<text x="63" y="9.2">PK</text>
</g>

<g id="t_unit" transform="translate(29,340)">
<rect class="b" width="68" height="82"/><rect class="h" width="68" height="5"/>
<text class="t" x="34" y="3.9">T_UNIT_ITEM</text>
<text y="5"><tspan x="3" dy="4.2">UNIT_ID</tspan><tspan x="3" dy="4.2">ITEM_ID</tspan><tspan x="3" dy="4.2">UNIT_CODE</tspan><tspan x="3" dy="4.2">UNIT_NAME</tspan><tspan x="3" dy="4.2">BASE_UNIT</tspan><tspan x="3" dy="4.2">RATIO</tspan><tspan x="3" dy="4.2">PRECISION</tspan><tspan x="3" dy="4.2">UNIT_TYPE</tspan><tspan x="3" dy="4.2">IS_DEFAULT</tspan><tspan x="3" dy="4.2">SORT_NO</tspan><tspan x="3" dy="4.2">STATUS</tspan><tspan x="3" dy="4.2">REMARK</tspan><tspan x="3" dy="4.2">CREATE_USER</tspan><tspan x="3" dy="4.2">CREATE_DATE</tspan><tspan x="3" dy="4.2">UPDATE_USER</tspan><tspan x="3" dy="4.2">UPDATE_DATE</tspan><tspan x="3" dy="4.2">VERSION_NO</tspan></text>
<text y="5"><tspan x="36" dy="4.2">NUMBER(10)</tspan><tspan x="36" dy="4.2">NUMBER(10)</tspan><tspan x="36" dy="4.2">VARCHAR2(10)</tspan><tspan x="36" dy="4.2">VARCHAR2(50)</tspan><tspan x="36" dy="4.2">VARCHAR2(10)</tspan><tspan x="36" dy="4.2">NUMBER(10,4)</tspan><tspan x="36" dy="4.2">NUMBER(2)</tspan><tspan x="36" dy="4.2">CHAR(1)</tspan><tspan x="36" dy="4.2">CHAR(1)</tspan><tspan x="36" dy="4.2">NUMBER(5)</tspan><tspan x="36" dy="4.2">CHAR(1)</tspan><tspan x="36" dy="4.2">VARCHAR2(500)</tspan><tspan x="36" dy="4.2">VARCHAR2(20)</tspan><tspan x="36" dy="4.2">DATE</tspan><tspan x="36" dy="4.2">VARCHAR2(20)</tspan><tspan x="36" dy="4.2">DATE</tspan><tspan x="36" dy="4.2">NUMBER(5)</tspan></text>
<text x="59" y="9.2">PK</text>
</g>

<g id="t_category" transform="translate(197,288)">
<rect class="b" width="66" height="115"/><rect class="h" width="66" height="5"/>
<text class="t" x="33" y="3.9">T_CATEGORY</text>
<text y="5"><tspan x="3" dy="4.2">ID</tspan><tspan x="3" dy="4.2">CAT_CODE</tspan><tspan x="3" dy="4.2">CAT_NAME</tspan><tspan x="3" dy="4.2">PARENT_ID</tspan><tspan x="3" dy="4.2">CAT_TYPE_ID</tspan><tspan x="3" dy="4.2">CAT_LEVEL</tspan><tspan x="3" dy="4.2">FULL_PATH</tspan><tspan x="3" dy="4.2">IS_LEAF</tspan><tspan x="3" dy="4.2">SORT_NO</tspan><tspan x="3" dy="4.2">ACCT_CODE</tspan><tspan x="3" dy="4.2">COST_ACCT</tspan><tspan x="3" dy="4.2">INCOME_ACCT</tspan><tspan x="3" dy="4.2">TAX_RATE</tspan><tspan x="3" dy="4.2">UNIT</tspan><tspan x="3" dy="4.2">IS_ACTIVE</tspan><tspan x="3" dy="4.2">STATUS</tspan><tspan x="3" dy="4.2">REMARK</tspan><tspan x="3" dy="4.2">CREATE_USER</tspan><tspan x="3" dy="4.2">CREATE_DATE</tspan><tspan x="3" dy="4.2">UPDATE_USER</tspan><tspan x="3" dy="4.2">UPDATE_DATE</tspan><tspan x="3" dy="4.2">ATTR_1</tspan><tspan x="3" dy="4.2">ATTR_2</tspan><tspan x="3" dy="4.2">ATTR_3</tspan><tspan x="3" dy="4.2">ATTR_4</tspan></text>
<text y="5"><tspan x="31" dy="4.2">NUMBER(10)</tspan><tspan x="31" dy="4.2">VARCHAR2(20)</tspan><tspan x="31" dy="4.2">VARCHAR2(100)</tspan><tspan x="31" dy="4.2">NUMBER(10)</tspan><tspan x="31" dy="4.2">NUMBER(10)</tspan><tspan x="31" dy="4.2">NUMBER(2)</tspan><tspan x="31" dy="4.2">VARCHAR2(500)</tspan><tspan x="31" dy="4.2">CHAR(1)</tspan><tspan x="31" dy="4.2">NUMBER(5)</tspan><tspan x="31" dy="4.2">VARCHAR2(30)</tspan><tspan x="31" dy="4.2">VARCHAR2(30)</tspan><tspan x="31" dy="4.2">VARCHAR2(30)</tspan><tspan x="31" dy="4.2">NUMBER(5,2)</tspan><tspan x="31" dy="4.2">VARCHAR2(10)</tspan><tspan x="31" dy="4.2">CHAR(1)</tspan><tspan x="31" dy="4.2">CHAR(1)</tspan><tspan x="31" dy="4.2">VARCHAR2(500)</tspan><tspan x="31" dy="4.2">VARCHAR2(20)</tspan><tspan x="31" dy="4.2">DATE</tspan><tspan x="31" dy="4.2">VARCHAR2(20)</tspan><tspan x="31" dy="4.2">DATE</tspan><tspan x="31" dy="4.2">VARCHAR2(100)</tspan><tspan x="31" dy="4.2">VARCHAR2(100)</tspan><tspan x="31" dy="4.2">VARCHAR2(100)</tspan><tspan x="31" dy="4.2">VARCHAR2(100)</tspan></text>
<text x="58" y="9.2">PK</text><text x="58" y="21.8">FK</text>
</g>

<g id="t_cat_type" transform="translate(102,432)">
<rect class="b" width="65" height="89"/><rect class="h" width="65" height="5"/>
<text class="t" x="32.5" y="3.9">T_CAT_TYPE</text>
<text y="5"><tspan x="3" dy="4.2">ID</tspan><tspan x="3" dy="4.2">TYPE_CODE</tspan><tspan x="3" dy="4.2">TYPE_NAME</tspan><tspan x="3" dy="4.2">PARENT_TYPE</tspan><tspan x="3" dy="4.2">TYPE_LEVEL</tspan><tspan x="3" dy="4.2">IS_STOCK</tspan><tspan x="3" dy="4.2">IS_ASSET</tspan><tspan x="3" dy="4.2">VALUATION</tspan><tspan x="3" dy="4.2">SORT_NO</tspan><tspan x="3" dy="4.2">DESCRIPTION</tspan><tspan x="3" dy="4.2">IS_ACTIVE</tspan><tspan x="3" dy="4.2">STATUS</tspan><tspan x="3" dy="4.2">REMARK</tspan><tspan x="3" dy="4.2">CREATE_USER</tspan><tspan x="3" dy="4.2">CREATE_DATE</tspan><tspan x="3" dy="4.2">UPDATE_USER</tspan><tspan x="3" dy="4.2">UPDATE_DATE</tspan><tspan x="3" dy="4.2">ATTR_1</tspan><tspan x="3" dy="4.2">ATTR_2</tspan></text>
<text y="5"><tspan x="31" dy="4.2">NUMBER(10)</tspan><tspan x="31" dy="4.2">VARCHAR2(20)</tspan><tspan x="31" dy="4.2">VARCHAR2(100)</tspan><tspan x="31" dy="4.2">NUMBER(10)</tspan><tspan x="31" dy="4.2">NUMBER(2)</tspan><tspan x="31" dy="4.2">CHAR(1)</tspan><tspan x="31" dy="4.2">CHAR(1)</tspan><tspan x="31" dy="4.2">CHAR(1)</tspan><tspan x="31" dy="4.2">NUMBER(5)</tspan><tspan x="31" dy="4.2">VARCHAR2(200)</tspan><tspan x="31" dy="4.2">CHAR(1)</tspan><tspan x="31" dy="4.2">CHAR(1)</tspan><tspan x="31" dy="4.2">VARCHAR2(500)</tspan><tspan x="31" dy="4.2">VARCHAR2(20)</tspan><tspan x="31" dy="4.2">DATE</tspan><tspan x="31" dy="4.2">VARCHAR2(20)</tspan><tspan x="31" dy="4.2">DATE</tspan><tspan x="31" dy="4.2">VARCHAR2(100)</tspan><tspan x="31" dy="4.2">VARCHAR2(100)</tspan></text>
<text x="57" y="9.2">PK</text><text x="57" y="13.4">FK</text>
</g>

<g id="t_stock" transform="translate(197,440)">
<rect class="b" width="73" height="150"/><rect class="h" width="73" height="5"/>
<text class="t" x="36.5" y="3.9">T_STOCK_DETAIL</text>
<text y="5"><tspan x="3" dy="4.2">ID</tspan><tspan x="3" dy="4.2">STOCK_NO</tspan><tspan x="3" dy="4.2">WAREHOUSE_ID</tspan><tspan x="3" dy="4.2">LOCATION_ID</tspan><tspan x="3" dy="4.2">ITEM_ID</tspan><tspan x="3" dy="4.2">BATCH_NO</tspan><tspan x="3" dy="4.2">SERIAL_NO</tspan><tspan x="3" dy="4.2">IN_OUT_TYPE</tspan><tspan x="3" dy="4.2">BILL_TYPE</tspan><tspan x="3" dy="4.2">BILL_NO</tspan><tspan x="3" dy="4.2">BILL_LINE_NO</tspan><tspan x="3" dy="4.2">TXN_DATE</tspan><tspan x="3" dy="4.2">QTY</tspan><tspan x="3" dy="4.2">UNIT</tspan><tspan x="3" dy="4.2">UNIT_COST</tspan><tspan x="3" dy="4.2">AMOUNT</tspan><tspan x="3" dy="4.2">BEFORE_QTY</tspan><tspan x="3" dy="4.2">AFTER_QTY</tspan><tspan x="3" dy="4.2">SUPPLIER_ID</tspan><tspan x="3" dy="4.2">CUST_ID</tspan><tspan x="3" dy="4.2">DEPT_ID</tspan><tspan x="3" dy="4.2">PROD_DATE</tspan><tspan x="3" dy="4.2">EXPIRE_DATE</tspan><tspan x="3" dy="4.2">STATUS</tspan><tspan x="3" dy="4.2">POST_FLAG</tspan><tspan x="3" dy="4.2">POST_DATE</tspan><tspan x="3" dy="4.2">REMARK</tspan><tspan x="3" dy="4.2">CREATE_USER</tspan><tspan x="3" dy="4.2">CREATE_DATE</tspan><tspan x="3" dy="4.2">UPDATE_USER</tspan><tspan x="3" dy="4.2">UPDATE_DATE</tspan><tspan x="3" dy="4.2">ATTR_1</tspan><tspan x="3" dy="4.2">ATTR_2</tspan><tspan x="3" dy="4.2">ATTR_3</tspan></text>
<text y="5"><tspan x="37" dy="4.2">NUMBER(10)</tspan><tspan x="37" dy="4.2">VARCHAR2(30)</tspan><tspan x="37" dy="4.2">NUMBER(10)</tspan><tspan x="37" dy="4.2">NUMBER(10)</tspan><tspan x="37" dy="4.2">NUMBER(10)</tspan><tspan x="37" dy="4.2">VARCHAR2(30)</tspan><tspan x="37" dy="4.2">VARCHAR2(50)</tspan><tspan x="37" dy="4.2">CHAR(1)</tspan><tspan x="37" dy="4.2">VARCHAR2(10)</tspan><tspan x="37" dy="4.2">VARCHAR2(30)</tspan><tspan x="37" dy="4.2">NUMBER(5)</tspan><tspan x="37" dy="4.2">DATE</tspan><tspan x="37" dy="4.2">NUMBER(15,3)</tspan><tspan x="37" dy="4.2">VARCHAR2(10)</tspan><tspan x="37" dy="4.2">NUMBER(15,4)</tspan><tspan x="37" dy="4.2">NUMBER(15,2)</tspan><tspan x="37" dy="4.2">NUMBER(15,3)</tspan><tspan x="37" dy="4.2">NUMBER(15,3)</tspan><tspan x="37" dy="4.2">NUMBER(10)</tspan><tspan x="37" dy="4.2">NUMBER(10)</tspan><tspan x="37" dy="4.2">NUMBER(10)</tspan><tspan x="37" dy="4.2">DATE</tspan><tspan x="37" dy="4.2">DATE</tspan><tspan x="37" dy="4.2">CHAR(1)</tspan><tspan x="37" dy="4.2">CHAR(1)</tspan><tspan x="37" dy="4.2">DATE</tspan><tspan x="37" dy="4.2">VARCHAR2(500)</tspan><tspan x="37" dy="4.2">VARCHAR2(20)</tspan><tspan x="37" dy="4.2">DATE</tspan><tspan x="37" dy="4.2">VARCHAR2(20)</tspan><tspan x="37" dy="4.2">DATE</tspan><tspan x="37" dy="4.2">VARCHAR2(100)</tspan><tspan x="37" dy="4.2">VARCHAR2(100)</tspan><tspan x="37" dy="4.2">VARCHAR2(100)</tspan></text>
<text x="64" y="9.2">PK</text>
</g>

<g id="t_warehouse" transform="translate(311,456)">
<rect class="b" width="66" height="101"/><rect class="h" width="66" height="5"/>
<text class="t" x="33" y="3.9">T_WAREHOUSE</text>
<text y="5"><tspan x="3" dy="4.2">ID</tspan><tspan x="3" dy="4.2">WH_CODE</tspan><tspan x="3" dy="4.2">WH_NAME</tspan><tspan x="3" dy="4.2">WH_TYPE</tspan><tspan x="3" dy="4.2">ORG_ID</tspan><tspan x="3" dy="4.2">DEPT_ID</tspan><tspan x="3" dy="4.2">MANAGER_ID</tspan><tspan x="3" dy="4.2">ADDRESS</tspan><tspan x="3" dy="4.2">TEL_NO</tspan><tspan x="3" dy="4.2">AREA</tspan><tspan x="3" dy="4.2">CAPACITY</tspan><tspan x="3" dy="4.2">IS_VIRTUAL</tspan><tspan x="3" dy="4.2">IS_ACTIVE</tspan><tspan x="3" dy="4.2">STATUS</tspan><tspan x="3" dy="4.2">SORT_NO</tspan><tspan x="3" dy="4.2">REMARK</tspan><tspan x="3" dy="4.2">CREATE_USER</tspan><tspan x="3" dy="4.2">CREATE_DATE</tspan><tspan x="3" dy="4.2">UPDATE_USER</tspan><tspan x="3" dy="4.2">UPDATE_DATE</tspan><tspan x="3" dy="4.2">ATTR_1</tspan><tspan x="3" dy="4.2">ATTR_2</tspan></text>
<text y="5"><tspan x="31" dy="4.2">NUMBER(10)</tspan><tspan x="31" dy="4.2">VARCHAR2(20)</tspan><tspan x="31" dy="4.2">VARCHAR2(100)</tspan><tspan x="31" dy="4.2">CHAR(1)</tspan><tspan x="31" dy="4.2">NUMBER(10)</tspan><tspan x="31" dy="4.2">NUMBER(10)</tspan><tspan x="31" dy="4.2">NUMBER(10)</tspan><tspan x="31" dy="4.2">VARCHAR2(200)</tspan><tspan x="31" dy="4.2">VARCHAR2(30)</tspan><tspan x="31" dy="4.2">NUMBER(10,2)</tspan><tspan x="31" dy="4.2">NUMBER(15,2)</tspan><tspan x="31" dy="4.2">CHAR(1)</tspan><tspan x="31" dy="4.2">CHAR(1)</tspan><tspan x="31" dy="4.2">CHAR(1)</tspan><tspan x="31" dy="4.2">NUMBER(5)</tspan><tspan x="31" dy="4.2">VARCHAR2(500)</tspan><tspan x="31" dy="4.2">VARCHAR2(20)</tspan><tspan x="31" dy="4.2">DATE</tspan><tspan x="31" dy="4.2">VARCHAR2(20)</tspan><tspan x="31" dy="4.2">DATE</tspan><tspan x="31" dy="4.2">VARCHAR2(100)</tspan><tspan x="31" dy="4.2">VARCHAR2(100)</tspan></text>
<text x="58" y="9.2">PK</text>
</g>

<g id="t_location" transform="translate(420,450)">
<rect class="b" width="68" height="105"/><rect class="h" width="68" height="5"/>
<text class="t" x="34" y="3.9">T_WH_LOCATION</text>
<text y="5"><tspan x="3" dy="4.2">ID</tspan><tspan x="3" dy="4.2">LOC_CODE</tspan><tspan x="3" dy="4.2">LOC_NAME</tspan><tspan x="3" dy="4.2">WAREHOUSE_ID</tspan><tspan x="3" dy="4.2">ZONE_CODE</tspan><tspan x="3" dy="4.2">ROW_NO</tspan><tspan x="3" dy="4.2">SHELF_NO</tspan><tspan x="3" dy="4.2">LAYER_NO</tspan><tspan x="3" dy="4.2">LOC_TYPE</tspan><tspan x="3" dy="4.2">MAX_WEIGHT</tspan><tspan x="3" dy="4.2">MAX_VOLUME</tspan><tspan x="3" dy="4.2">IS_MIXED</tspan><tspan x="3" dy="4.2">IS_ACTIVE</tspan><tspan x="3" dy="4.2">STATUS</tspan><tspan x="3" dy="4.2">SORT_NO</tspan><tspan x="3" dy="4.2">REMARK</tspan><tspan x="3" dy="4.2">CREATE_USER</tspan><tspan x="3" dy="4.2">CREATE_DATE</tspan><tspan x="3" dy="4.2">UPDATE_USER</tspan><tspan x="3" dy="4.2">UPDATE_DATE</tspan><tspan x="3" dy="4.2">ATTR_1</tspan><tspan x="3" dy="4.2">ATTR_2</tspan><tspan x="3" dy="4.2">ATTR_3</tspan></text>
<text y="5"><tspan x="33" dy="4.2">NUMBER(10)</tspan><tspan x="33" dy="4.2">VARCHAR2(20)</tspan><tspan x="33" dy="4.2">VARCHAR2(100)</tspan><tspan x="33" dy="4.2">NUMBER(10)</tspan><tspan x="33" dy="4.2">VARCHAR2(10)</tspan><tspan x="33" dy="4.2">NUMBER(5)</tspan><tspan x="33" dy="4.2">NUMBER(5)</tspan><tspan x="33" dy="4.2">NUMBER(5)</tspan><tspan x="33" dy="4.2">CHAR(1)</tspan><tspan x="33" dy="4.2">NUMBER(10,2)</tspan><tspan x="33" dy="4.2">NUMBER(10,2)</tspan><tspan x="33" dy="4.2">CHAR(1)</tspan><tspan x="33" dy="4.2">CHAR(1)</tspan><tspan x="33" dy="4.2">CHAR(1)</tspan><tspan x="33" dy="4.2">NUMBER(5)</tspan><tspan x="33" dy="4.2">VARCHAR2(500)</tspan><tspan x="33" dy="4.2">VARCHAR2(20)</tspan><tspan x="33" dy="4.2">DATE</tspan><tspan x="33" dy="4.2">VARCHAR2(20)</tspan><tspan x="33" dy="4.2">DATE</tspan><tspan x="33" dy="4.2">VARCHAR2(100)</tspan><tspan x="33" dy="4.2">VARCHAR2(100)</tspan><tspan x="33" dy="4.2">VARCHAR2(100)</tspan></text>
<text x="60" y="9.2">PK</text>
</g>
</svg>
